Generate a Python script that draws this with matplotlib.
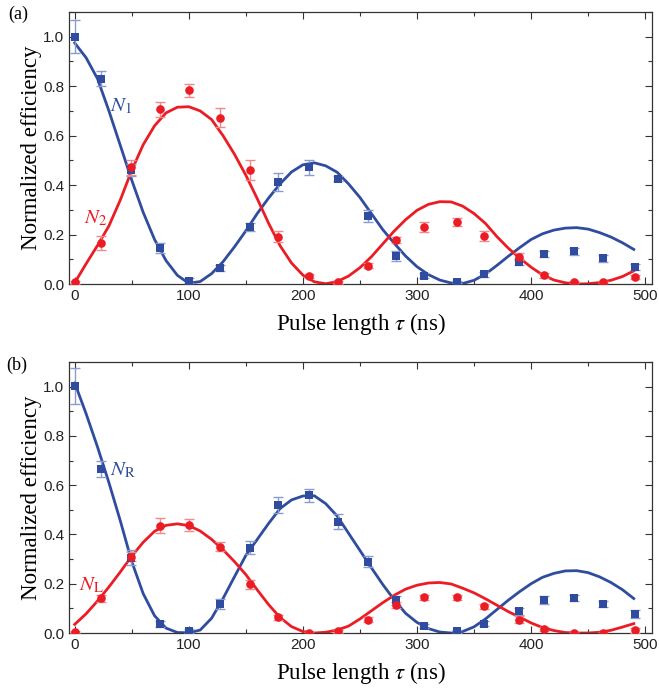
import matplotlib
matplotlib.use("Agg")
import matplotlib.pyplot as plt
from matplotlib.ticker import MultipleLocator

# measured points (pulse length in ns)
tau = [0, 23, 49, 75, 100, 127, 154, 178, 205, 231, 257, 282, 306, 335, 359, 389, 411, 438, 463, 491]

n1 = [1.0, 0.83, 0.462, 0.144, 0.013, 0.063, 0.231, 0.412, 0.472, 0.425, 0.275, 0.115, 0.034, 0.008, 0.039, 0.088, 0.12, 0.132, 0.104, 0.069]
n1_err = [0.067, 0.03, 0.025, 0.02, 0.01, 0.012, 0.015, 0.035, 0.03, 0.01, 0.025, 0.02, 0.01, 0.005, 0.01, 0.012, 0.012, 0.015, 0.015, 0.012]
n2 = [0.007, 0.167, 0.472, 0.707, 0.783, 0.673, 0.462, 0.192, 0.034, 0.007, 0.074, 0.178, 0.232, 0.251, 0.193, 0.111, 0.036, 0.009, 0.009, 0.027]
n2_err = [0.005, 0.028, 0.03, 0.03, 0.025, 0.04, 0.04, 0.022, 0.008, 0.005, 0.01, 0.012, 0.02, 0.015, 0.02, 0.015, 0.01, 0.005, 0.005, 0.008]

nr = [1.003, 0.666, 0.306, 0.036, 0.009, 0.117, 0.347, 0.518, 0.559, 0.451, 0.289, 0.132, 0.027, 0.007, 0.038, 0.088, 0.135, 0.143, 0.118, 0.077]
nr_err = [0.074, 0.032, 0.03, 0.013, 0.008, 0.02, 0.027, 0.032, 0.027, 0.03, 0.022, 0.018, 0.008, 0.005, 0.01, 0.015, 0.017, 0.013, 0.013, 0.017]
nl = [0.003, 0.141, 0.31, 0.435, 0.438, 0.35, 0.198, 0.063, 0.0, 0.007, 0.054, 0.114, 0.145, 0.145, 0.108, 0.054, 0.016, 0.0, 0.0, 0.011]
nl_err = [0.005, 0.015, 0.018, 0.03, 0.025, 0.018, 0.018, 0.012, 0.005, 0.005, 0.01, 0.012, 0.01, 0.01, 0.01, 0.015, 0.008, 0.005, 0.005, 0.01]

fit_t = [0, 10, 20, 30, 40, 50, 60, 70, 80, 90, 100, 110, 120, 130, 140, 150, 160, 170, 180, 190,
         200, 210, 220, 230, 240, 250, 260, 270, 280, 290, 300, 310, 320, 330, 340, 350, 360, 370, 380, 390,
         400, 410, 420, 430, 440, 450, 460, 470, 480, 490]
fit_n1 = [0.975, 0.915, 0.83, 0.70, 0.56, 0.42, 0.29, 0.18, 0.095, 0.035,
          0.003, 0.01, 0.042, 0.09, 0.15, 0.215, 0.285, 0.348, 0.405, 0.453,
          0.482, 0.49, 0.478, 0.452, 0.405, 0.35, 0.285, 0.22, 0.165, 0.113,
          0.07, 0.038, 0.016, 0.004, 0.002, 0.015, 0.04, 0.075, 0.112, 0.147,
          0.18, 0.203, 0.218, 0.226, 0.228, 0.222, 0.208, 0.19, 0.167, 0.14]
fit_n2 = [0.005, 0.082, 0.156, 0.235, 0.34, 0.46, 0.563, 0.64, 0.692, 0.715,
          0.717, 0.70, 0.665, 0.60, 0.525, 0.44, 0.345, 0.245, 0.155, 0.085,
          0.036, 0.009, 0.001, 0.01, 0.032, 0.066, 0.11, 0.162, 0.214, 0.26,
          0.298, 0.322, 0.333, 0.332, 0.315, 0.285, 0.245, 0.192, 0.145, 0.105,
          0.068, 0.037, 0.016, 0.005, 0.0, 0.001, 0.006, 0.015, 0.03, 0.053]
fit_nr = [1.015, 0.89, 0.755, 0.61, 0.455, 0.29, 0.16, 0.07, 0.02, 0.002,
          0.001, 0.012, 0.06, 0.14, 0.228, 0.315, 0.38, 0.445, 0.505, 0.54,
          0.556, 0.557, 0.525, 0.475, 0.405, 0.335, 0.265, 0.197, 0.135, 0.08,
          0.043, 0.018, 0.004, 0.0, 0.006, 0.025, 0.057, 0.095, 0.133, 0.168,
          0.2, 0.226, 0.242, 0.252, 0.253, 0.245, 0.228, 0.205, 0.176, 0.14]
fit_nl = [0.035, 0.078, 0.13, 0.187, 0.248, 0.312, 0.368, 0.413, 0.437, 0.443,
          0.436, 0.414, 0.38, 0.338, 0.29, 0.237, 0.175, 0.115, 0.063, 0.026,
          0.006, 0.0, 0.003, 0.012, 0.028, 0.057, 0.09, 0.123, 0.153, 0.178,
          0.194, 0.203, 0.205, 0.199, 0.182, 0.163, 0.139, 0.113, 0.087, 0.064,
          0.041, 0.022, 0.01, 0.002, 0.0, 0.0, 0.003, 0.011, 0.024, 0.038]

BLUE = '#2f4c9f'
RED = '#ec1c24'
BLUE_ERR = '#8a9bd0'
RED_ERR = '#f08a8a'

plt.rcParams['mathtext.fontset'] = 'stix'
plt.rcParams['font.family'] = 'Liberation Sans'

fig = plt.figure(figsize=(6.59, 6.90), dpi=100)
ax_a = fig.add_axes([0.1047, 0.5884, 0.8847, 0.3942])
ax_b = fig.add_axes([0.1047, 0.0826, 0.8847, 0.3928])


def panel(ax, yb, yb_err, fb, yr, yr_err, fr):
    ax.plot(fit_t, fb, color=BLUE, lw=2, zorder=2)
    ax.plot(fit_t, fr, color=RED, lw=2, zorder=2)
    ax.errorbar(tau, yb, yerr=yb_err, fmt='none', ecolor=BLUE_ERR, elinewidth=1, capsize=3.5, capthick=1, zorder=3)
    ax.errorbar(tau, yr, yerr=yr_err, fmt='none', ecolor=RED_ERR, elinewidth=1, capsize=3.5, capthick=1, zorder=3)
    ax.plot(tau, yb, 's', color=BLUE, ms=5.8, mew=0, zorder=4)
    ax.plot(tau, yr, 'o', color=RED, ms=6.2, mew=0, zorder=4)

    ax.set_xlim(-5, 506)
    ax.set_ylim(0, 1.1)
    ax.xaxis.set_major_locator(MultipleLocator(100))
    ax.xaxis.set_minor_locator(MultipleLocator(50))
    ax.yaxis.set_major_locator(MultipleLocator(0.2))
    ax.yaxis.set_minor_locator(MultipleLocator(0.1))
    ax.tick_params(which='both', direction='in', top=True, right=True, colors='#333333', labelcolor='#222222', labelsize=11)
    ax.tick_params(which='major', length=5, width=0.8)
    ax.tick_params(which='minor', length=3, width=0.8)
    for s in ax.spines.values():
        s.set_color('#333333')
        s.set_linewidth(0.9)
    ax.set_xlabel(r'Pulse length $\tau$ (ns)', family='Liberation Serif', fontsize=16.5, labelpad=6)
    ax.set_ylabel('Normalized efficiency', family='Liberation Serif', fontsize=16.5, labelpad=1)


panel(ax_a, n1, n1_err, fit_n1, n2, n2_err, fit_n2)
panel(ax_b, nr, nr_err, fit_nr, nl, nl_err, fit_nl)

ax_a.text(31, 0.70, r'$N_{\mathrm{1}}$', color=BLUE, fontsize=15)
ax_a.text(8, 0.245, r'$N_{\mathrm{2}}$', color=RED, fontsize=15)
ax_b.text(31, 0.64, r'$N_{\mathrm{R}}$', color=BLUE, fontsize=15)
ax_b.text(4, 0.175, r'$N_{\mathrm{L}}$', color=RED, fontsize=15)

fig.text(0.013, 0.979, '(a)', family='Liberation Serif', fontsize=13, va='center')
fig.text(0.010, 0.471, '(b)', family='Liberation Serif', fontsize=13, va='center')

fig.savefig('out.png', dpi=100)
